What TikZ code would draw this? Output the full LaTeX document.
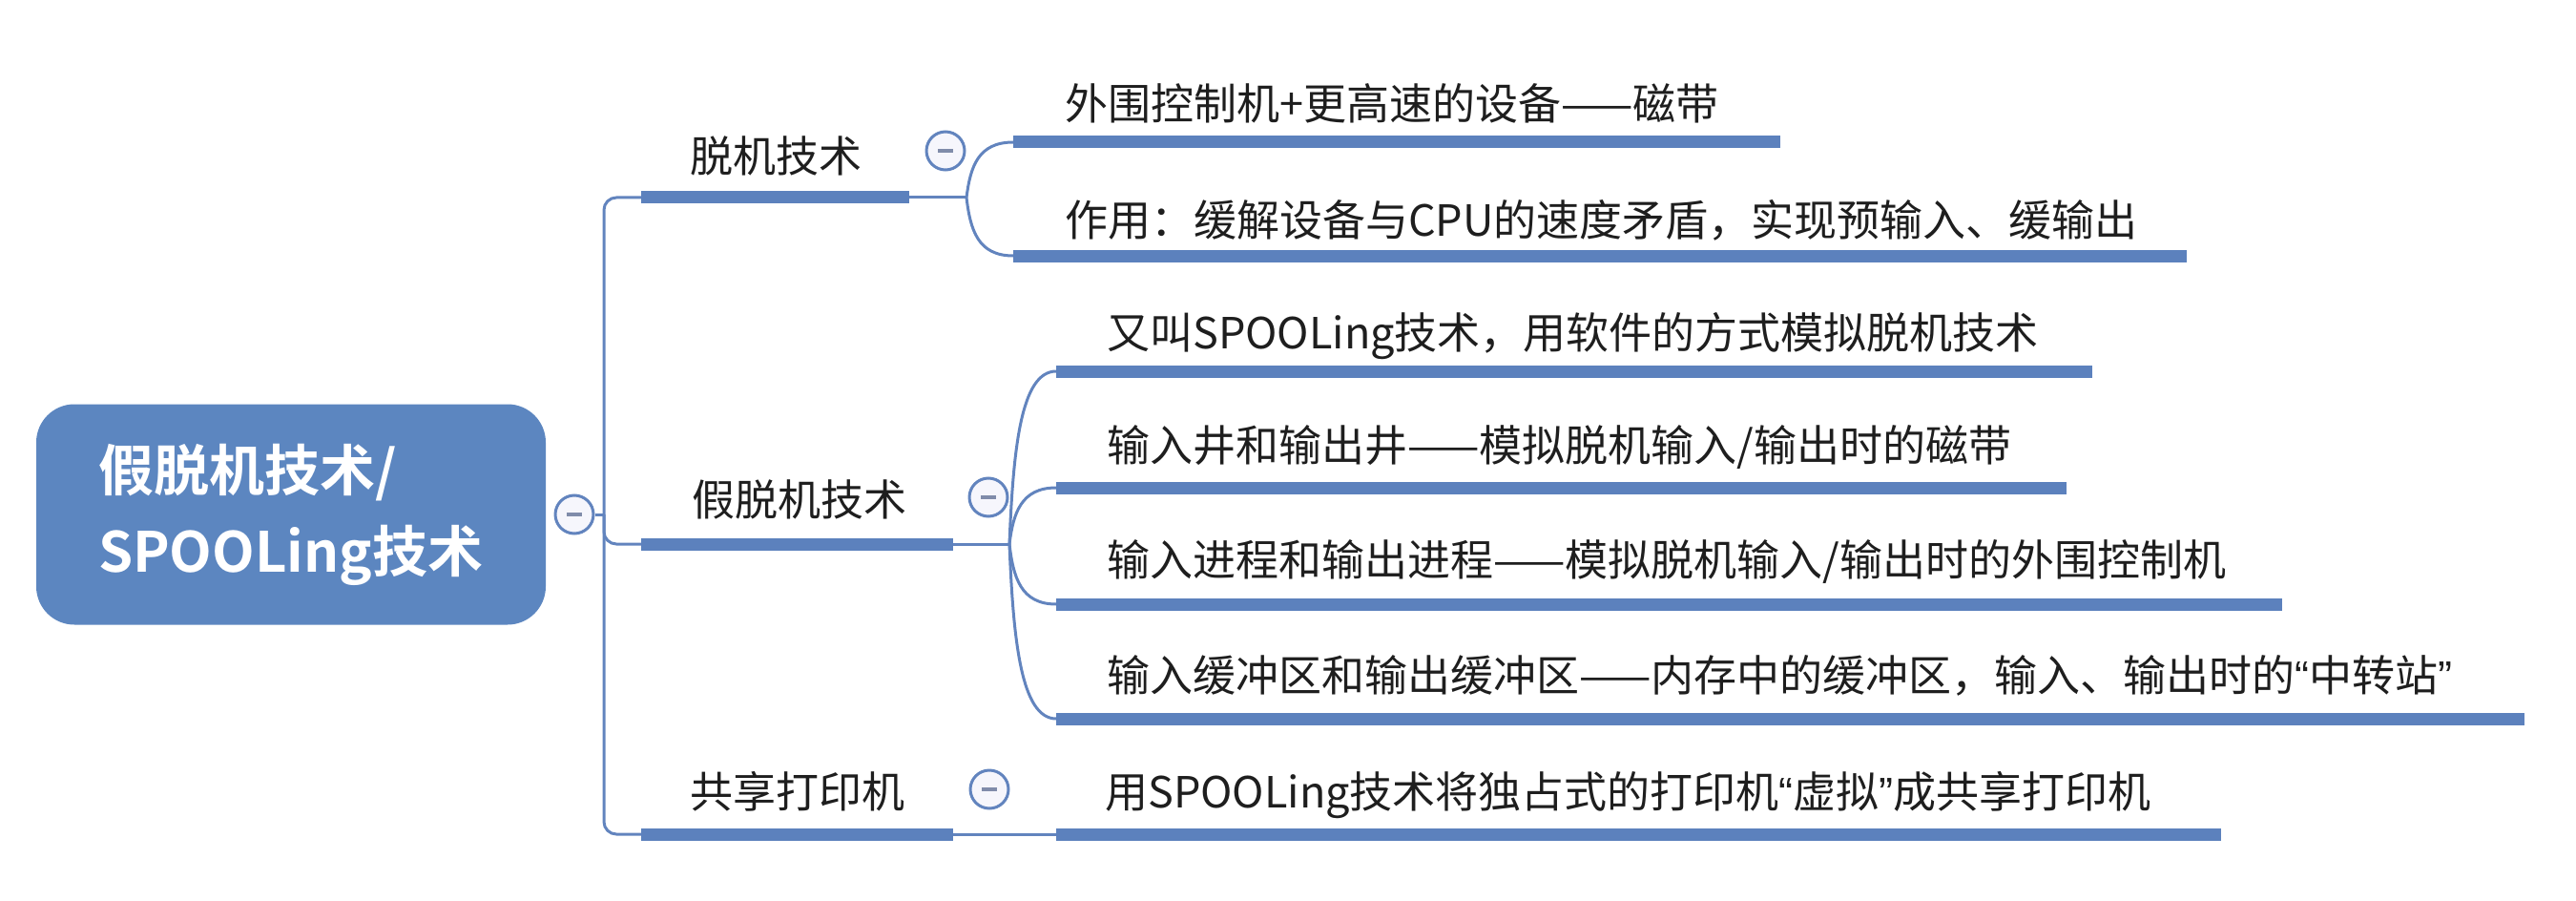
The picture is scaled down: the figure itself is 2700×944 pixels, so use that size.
\documentclass[tikz,border=0pt]{standalone}
\usepackage{fontspec}
\setmainfont{Noto Sans CJK SC}[BoldFont={Noto Sans CJK SC Bold}]
\newfontfamily\qfont{Liberation Sans}
\newcommand{\myLQ}{{\qfont “}}
\newcommand{\myRQ}{{\qfont ”}}
\definecolor{rootfill}{RGB}{92,134,192}
\definecolor{ulblue}{RGB}{92,129,189}
\definecolor{lnblue}{RGB}{98,132,190}
\definecolor{togfill}{RGB}{246,246,252}
\definecolor{minusc}{RGB}{128,140,170}
\definecolor{txt}{RGB}{30,30,30}
\begin{document}
\begin{tikzpicture}[x=1pt,y=-1pt,
  rootbox/.style={rectangle, rounded corners=40pt, fill=rootfill, minimum width=534pt, minimum height=231pt,
    text=white, align=left, text width=404pt, inner sep=0pt,
    font=\fontsize{58}{85}\selectfont\bfseries},
  ul/.style={draw=ulblue, line width=13pt, line cap=butt},
  conn/.style={draw=lnblue, line width=3pt},
  lbl/.style={anchor=base west, inner sep=0pt, text=txt, font=\fontsize{45}{50}\selectfont},
  tog/.style={circle, draw=lnblue, line width=3pt, fill=togfill, minimum size=40pt, inner sep=0pt},
  minusbar/.style={draw=minusc, line width=4pt}]
\useasboundingbox (0,0) rectangle (2700,944);

% root
\node[rootbox] (root) at (305,539) {假脱机技术/\\SPOOLing技术};
\node[tog] (t0) at (602,539) {};
\draw[minusbar] ([xshift=-8pt]t0.center) -- ([xshift=8pt]t0.center);

% trunk coordinates
\coordinate (tj) at (633,539);
\coordinate (b1s) at (672,207); \coordinate (b1e) at (953,207);
\coordinate (b2s) at (672,570); \coordinate (b2e) at (999,570);
\coordinate (b3s) at (672,874); \coordinate (b3e) at (999,874);

\draw[conn] (t0.east) -- (tj);
\draw[conn, rounded corners=13pt] (b1s) -| (tj) |- (b3s);
\draw[conn, rounded corners=13pt] (tj) |- (b2s);

% branch underlines and labels
\draw[ul] (b1s) -- (b1e);
\draw[ul] (b2s) -- (b2e);
\draw[ul] (b3s) -- (b3e);
\node[lbl] (b1) at (723,181) {脱机技术};
\node[lbl] (b2) at (725,540) {假脱机技术};
\node[lbl] (b3) at (723,846) {共享打印机};

% toggles
\node[tog] (t1) at (991,158) {};
\draw[minusbar] ([xshift=-8pt]t1.center) -- ([xshift=8pt]t1.center);
\node[tog] (t2) at (1036,521) {};
\draw[minusbar] ([xshift=-8pt]t2.center) -- ([xshift=8pt]t2.center);
\node[tog] (t3) at (1037,827) {};
\draw[minusbar] ([xshift=-8pt]t3.center) -- ([xshift=8pt]t3.center);

% forks
\coordinate (f1) at (1013,207);
\coordinate (f2) at (1058,570);
\draw[conn] (b1e) -- (f1);
\draw[conn] (b2e) -- (f2);

% children of branch 1
\coordinate (c11s) at (1062,149); \coordinate (c11e) at (1866,149);
\coordinate (c12s) at (1062,268); \coordinate (c12e) at (2292,268);
\draw[conn] (f1) .. controls +(4,-32) and +(-37,0) .. (c11s);
\draw[conn] (f1) .. controls +(4,34) and +(-37,0) .. (c12s);
\draw[ul] (c11s) -- (c11e);
\draw[ul] (c12s) -- (c12e);
\node[lbl] (c11) at (1116,126) {外围控制机+更高速的设备——磁带};
\node[lbl] (c12) at (1116,247) {作用：缓解设备与CPU的速度矛盾，实现预输入、缓输出};

% children of branch 2
\coordinate (c21s) at (1107,389); \coordinate (c21e) at (2193,389);
\coordinate (c22s) at (1107,511); \coordinate (c22e) at (2166,511);
\coordinate (c23s) at (1107,633); \coordinate (c23e) at (2392,633);
\coordinate (c24s) at (1107,753); \coordinate (c24e) at (2646,753);
\draw[conn] (f2) .. controls +(4,-100) and +(-37,0) .. (c21s);
\draw[conn] (f2) .. controls +(4,-32) and +(-37,0) .. (c22s);
\draw[conn] (f2) .. controls +(4,35) and +(-37,0) .. (c23s);
\draw[conn] (f2) .. controls +(4,100) and +(-37,0) .. (c24s);
\draw[ul] (c21s) -- (c21e);
\draw[ul] (c22s) -- (c22e);
\draw[ul] (c23s) -- (c23e);
\draw[ul] (c24s) -- (c24e);
\node[lbl] (c21) at (1160,365) {又叫SPOOLing技术，用软件的方式模拟脱机技术};
\node[lbl] (c22) at (1160,483) {输入井和输出井——模拟脱机输入/输出时的磁带};
\node[lbl] (c23) at (1160,603) {输入进程和输出进程——模拟脱机输入/输出时的外围控制机};
\node[lbl] (c24) at (1160,724) {输入缓冲区和输出缓冲区——内存中的缓冲区，输入、输出时的\myLQ 中转站\myRQ};

% child of branch 3
\coordinate (c31s) at (1107,874); \coordinate (c31e) at (2328,874);
\draw[conn] (b3e) -- (c31s);
\draw[ul] (c31s) -- (c31e);
\node[lbl] (c31) at (1158,846) {用SPOOLing技术将独占式的打印机\myLQ 虚拟\myRQ 成共享打印机};
\end{tikzpicture}
\end{document}
